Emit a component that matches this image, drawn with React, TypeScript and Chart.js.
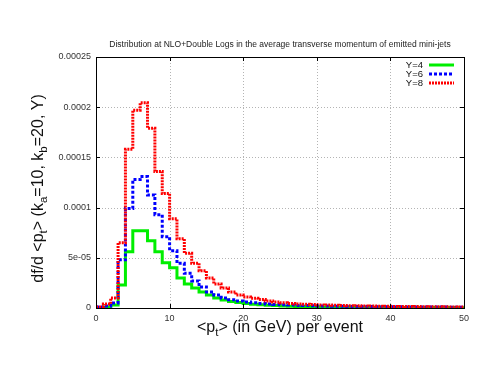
import { useEffect, useRef } from 'react';
import { Chart, registerables } from 'chart.js';

Chart.register(...registerables);

const titleText = 'Distribution at NLO+Double Logs in the average transverse momentum of emitted mini-jets';
const seriesLabels = ['Y=4', 'Y=6', 'Y=8'];
const xTickValues = [0, 10, 20, 30, 40, 50];
const yTickValues = [0, 0.00005, 0.0001, 0.00015, 0.0002, 0.00025];
const yTickLabels = ['0', '5e-05', '0.0001', '0.00015', '0.0002', '0.00025'];

// histogram bin contents, 1 GeV bins starting at 0
const y4 = [
  0, 1e-6, 3e-6, 2.3e-5, 5.6e-5, 7.7e-5, 7.7e-5, 6.7e-5, 5.6e-5, 4.5e-5,
  4.0e-5, 3.0e-5, 2.4e-5, 2.0e-5, 1.6e-5, 1.3e-5, 1.0e-5, 8.0e-6, 6.5e-6, 5.5e-6,
  4.5e-6, 3.8e-6, 3.2e-6, 2.8e-6, 2.4e-6, 2.1e-6, 1.8e-6, 1.6e-6, 1.45e-6, 1.3e-6,
  1.2e-6, 1.1e-6, 1.0e-6, 0.95e-6, 0.9e-6, 0.85e-6, 0.8e-6, 0.75e-6, 0.7e-6, 0.65e-6,
  0.6e-6, 0.57e-6, 0.54e-6, 0.5e-6, 0.47e-6, 0.45e-6, 0.42e-6, 0.4e-6, 0.38e-6, 0.35e-6,
];
const y6 = [
  1e-6, 2e-6, 5e-6, 4.8e-5, 9.9e-5, 1.28e-4, 1.31e-4, 1.125e-4, 9.3e-5, 7.1e-5,
  5.7e-5, 4.45e-5, 3.45e-5, 2.7e-5, 2.1e-5, 1.6e-5, 1.3e-5, 1.0e-5, 8.2e-6, 7.0e-6,
  6.0e-6, 5.2e-6, 4.5e-6, 4.0e-6, 3.5e-6, 3.2e-6, 2.9e-6, 2.6e-6, 2.4e-6, 2.2e-6,
  2.0e-6, 1.9e-6, 1.8e-6, 1.7e-6, 1.6e-6, 1.5e-6, 1.45e-6, 1.4e-6, 1.3e-6, 1.25e-6,
  1.2e-6, 1.15e-6, 1.1e-6, 1.05e-6, 1.0e-6, 0.95e-6, 0.9e-6, 0.88e-6, 0.85e-6, 0.8e-6,
];
const y8 = [
  1e-6, 4e-6, 1e-5, 6.5e-5, 1.58e-4, 1.97e-4, 2.045e-4, 1.79e-4, 1.36e-4, 1.14e-4,
  8.9e-5, 6.9e-5, 5.45e-5, 4.45e-5, 3.7e-5, 3.0e-5, 2.4e-5, 2.0e-5, 1.6e-5, 1.3e-5,
  1.1e-5, 9.7e-6, 8.5e-6, 7.0e-6, 6.0e-6, 5.2e-6, 4.6e-6, 4.1e-6, 3.7e-6, 3.4e-6,
  3.1e-6, 2.9e-6, 2.7e-6, 2.5e-6, 2.3e-6, 2.2e-6, 2.0e-6, 1.9e-6, 1.8e-6, 1.7e-6,
  1.6e-6, 1.5e-6, 1.45e-6, 1.4e-6, 1.3e-6, 1.25e-6, 1.2e-6, 1.15e-6, 1.1e-6, 1.05e-6,
];

const FONT = '"Liberation Sans", Arial, sans-serif';
const colors = ['#00ee00', '#0000ff', '#ff0000'];
const dashes = [[], [3, 2], [2, 1]];

function toSteps(vals: number[]) {
  const pts = vals.map((v, i) => ({ x: i, y: v }));
  pts.push({ x: vals.length, y: vals[vals.length - 1] });
  return pts;
}

type Run = { t: string; sub?: boolean };

function drawRuns(ctx: CanvasRenderingContext2D, runs: Run[], size: number, subSize: number) {
  const main = `${size}px ${FONT}`;
  const sub = `${subSize}px ${FONT}`;
  let total = 0;
  runs.forEach((r) => {
    ctx.font = r.sub ? sub : main;
    total += ctx.measureText(r.t).width;
  });
  let x = -total / 2;
  ctx.textAlign = 'left';
  ctx.textBaseline = 'alphabetic';
  runs.forEach((r) => {
    ctx.font = r.sub ? sub : main;
    ctx.fillText(r.t, x, r.sub ? 9 : 5);
    x += ctx.measureText(r.t).width;
  });
}

const decor = {
  id: 'decor',
  beforeDatasetsDraw(chart: any) {
    const { ctx, chartArea: a, scales } = chart;
    const xs = scales.x;
    const ys = scales.y;
    ctx.save();
    ctx.strokeStyle = '#b4b4b4';
    ctx.lineWidth = 1;
    ctx.setLineDash([1, 2]);
    xTickValues.slice(1, -1).forEach((v) => {
      const px = Math.round(xs.getPixelForValue(v)) + 0.5;
      ctx.beginPath();
      ctx.moveTo(px, a.top);
      ctx.lineTo(px, a.bottom);
      ctx.stroke();
    });
    yTickValues.slice(1, -1).forEach((v) => {
      const py = Math.round(ys.getPixelForValue(v)) + 0.5;
      ctx.beginPath();
      ctx.moveTo(a.left, py);
      ctx.lineTo(a.right, py);
      ctx.stroke();
    });
    ctx.restore();
  },
  afterDatasetsDraw(chart: any) {
    const { ctx, chartArea: a, scales } = chart;
    const xs = scales.x;
    const ys = scales.y;
    ctx.save();
    ctx.strokeStyle = '#000';
    ctx.lineWidth = 1;
    ctx.setLineDash([]);
    ctx.strokeRect(Math.round(a.left) + 0.5, Math.round(a.top) + 0.5, Math.round(a.right - a.left), Math.round(a.bottom - a.top));
    const tl = 4;
    xTickValues.forEach((v) => {
      const px = Math.round(xs.getPixelForValue(v)) + 0.5;
      ctx.beginPath();
      ctx.moveTo(px, a.bottom);
      ctx.lineTo(px, a.bottom - tl);
      ctx.moveTo(px, a.top);
      ctx.lineTo(px, a.top + tl);
      ctx.stroke();
    });
    yTickValues.forEach((v) => {
      const py = Math.round(ys.getPixelForValue(v)) + 0.5;
      ctx.beginPath();
      ctx.moveTo(a.left, py);
      ctx.lineTo(a.left + tl, py);
      ctx.moveTo(a.right, py);
      ctx.lineTo(a.right - tl, py);
      ctx.stroke();
    });
    const rows = [65, 74, 83];
    ctx.font = `9.5px ${FONT}`;
    ctx.fillStyle = '#111';
    ctx.textAlign = 'right';
    ctx.textBaseline = 'middle';
    seriesLabels.forEach((lab, i) => {
      ctx.fillText(lab, 423, rows[i]);
      ctx.save();
      ctx.strokeStyle = colors[i];
      ctx.lineWidth = 3;
      ctx.setLineDash(dashes[i]);
      ctx.beginPath();
      ctx.moveTo(429, rows[i]);
      ctx.lineTo(454, rows[i]);
      ctx.stroke();
      ctx.restore();
    });
    ctx.font = `8.5px ${FONT}`;
    ctx.fillStyle = '#222';
    ctx.textAlign = 'center';
    ctx.textBaseline = 'middle';
    ctx.fillText(titleText, (a.left + a.right) / 2, 45);
    ctx.fillStyle = '#111';
    ctx.save();
    ctx.translate((a.left + a.right) / 2, 327);
    drawRuns(ctx, [{ t: '<p' }, { t: 't', sub: true }, { t: '> (in GeV) per event' }], 16, 11.5);
    ctx.restore();
    ctx.save();
    ctx.translate(38, (a.top + a.bottom) / 2 + 6);
    ctx.rotate(-Math.PI / 2);
    drawRuns(
      ctx,
      [
        { t: 'df/d <p' },
        { t: 't', sub: true },
        { t: '> (k' },
        { t: 'a', sub: true },
        { t: '=10, k' },
        { t: 'b', sub: true },
        { t: '=20, Y)' },
      ],
      16,
      11.5
    );
    ctx.restore();
    ctx.restore();
  },
};

export default function App() {
  const ref = useRef<HTMLCanvasElement>(null);
  useEffect(() => {
    if (!ref.current) return;
    const series = [y4, y6, y8];
    const chart = new Chart(ref.current, {
      type: 'line',
      data: {
        datasets: series.map((vals, i) => ({
          label: seriesLabels[i],
          data: toSteps(vals),
          stepped: true,
          borderColor: colors[i],
          borderWidth: 3,
          borderDash: dashes[i],
          pointRadius: 0,
          fill: false,
          order: 2 - i,
        })),
      },
      options: {
        animation: false,
        responsive: false,
        devicePixelRatio: 1,
        layout: { padding: { top: 57, right: 30, left: 0, bottom: 0 } },
        plugins: { legend: { display: false }, title: { display: false }, tooltip: { enabled: false } },
        scales: {
          x: {
            type: 'linear',
            min: 0,
            max: 50,
            afterBuildTicks: (s: any) => {
              s.ticks = xTickValues.map((v) => ({ value: v }));
            },
            afterFit: (s: any) => {
              s.height = 74;
            },
            grid: { display: false, drawTicks: false },
            border: { display: false },
            ticks: { padding: 5, color: '#333', font: { family: FONT, size: 9 }, maxRotation: 0 },
          },
          y: {
            type: 'linear',
            min: 0,
            max: 0.00025,
            afterBuildTicks: (s: any) => {
              s.ticks = yTickValues.map((v) => ({ value: v }));
            },
            afterFit: (s: any) => {
              s.width = 96;
            },
            grid: { display: false, drawTicks: false },
            border: { display: false },
            ticks: {
              padding: 5,
              color: '#333',
              font: { family: FONT, size: 9 },
              callback: (_v: any, i: number) => yTickLabels[i],
            },
          },
        },
      },
      plugins: [decor],
    } as any);
    return () => chart.destroy();
  }, []);
  return (
    <div style={{ position: 'fixed', left: 0, top: 0, width: 494, height: 382, background: '#fff' }}>
      <canvas ref={ref} width={494} height={382} style={{ width: 494, height: 382, display: 'block' }} />
    </div>
  );
}
